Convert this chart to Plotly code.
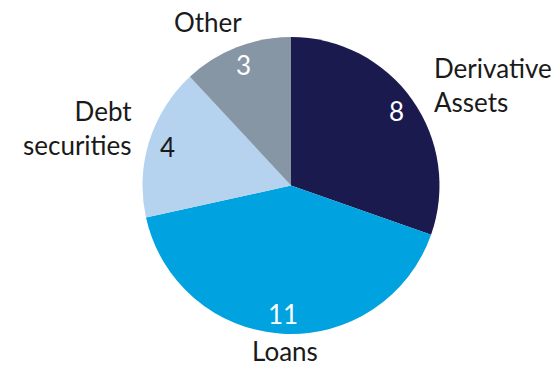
import math
import plotly.graph_objects as go

categories = ["Derivative Assets", "Loans", "Debt securities", "Other"]
values = [7.9, 10.7, 4.3, 3.1]          # slice sizes
value_labels = ["8", "11", "4", "3"]     # rounded values printed on the slices
colors = ["#1a1a4e", "#00a3e0", "#b5d2ef", "#8696a5"]
value_font_colors = ["white", "white", "#1a1a1a", "white"]
label_texts = ["Derivative<br>Assets", "Loans", "Debt<br>securities", "Other"]

W, H = 557, 368
cx, cy, r = 291, 185.5, 148.5
FONT = "Lato"

fig = go.Figure(go.Pie(
    labels=categories,
    values=values,
    sort=False,
    direction="clockwise",
    rotation=0,
    marker=dict(colors=colors, line=dict(width=0)),
    textinfo="none",
    showlegend=False,
    hoverinfo="label+value",
    domain=dict(x=[(cx - r) / W, (cx + r) / W], y=[(H - cy - r) / H, (H - cy + r) / H]),
))

# value labels placed along each slice's mid-angle, near the rim
total = sum(values)
cum = 0
for v, lab, fc in zip(values, value_labels, value_font_colors):
    mid = (cum + v / 2) / total * 2 * math.pi
    cum += v
    px = cx + 0.87 * r * math.sin(mid)
    py = cy - 0.87 * r * math.cos(mid)
    fig.add_annotation(
        x=px / W, y=1 - py / H, xref="paper", yref="paper",
        text=lab, showarrow=False, xanchor="center", yanchor="middle",
        font=dict(size=26, color=fc, family=FONT),
    )

# category label anchor positions in pixels (x, y, xanchor)
label_pos = [(432, 85, "left"), (285, 351, "center"), (134, 128, "right"), (208, 22, "center")]
for txt, (px, py, xa) in zip(label_texts, label_pos):
    fig.add_annotation(
        x=px / W, y=1 - py / H, xref="paper", yref="paper",
        text=txt, showarrow=False, xanchor=xa, yanchor="middle",
        align=xa,
        font=dict(size=26, color="#1a1a1a", family=FONT),
    )

fig.update_layout(
    width=W, height=H,
    margin=dict(l=0, r=0, t=0, b=0),
    paper_bgcolor="white",
    plot_bgcolor="white",
)

fig.write_html("out.html", config={"displayModeBar": False})
with open("out.html", encoding="utf-8") as f:
    html = f.read()
html = html.replace("<body>", '<body style="margin:0;padding:0;overflow:hidden">', 1)
with open("out.html", "w", encoding="utf-8") as f:
    f.write(html)
